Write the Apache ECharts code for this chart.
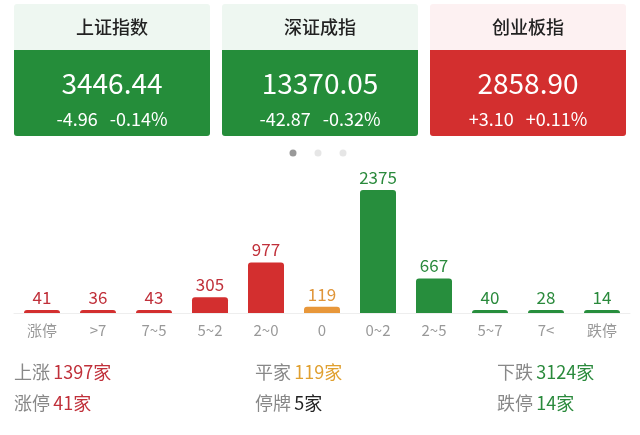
<!DOCTYPE html>
<html>
<head>
<meta charset="utf-8">
<title>涨跌分布</title>
<script src="https://cdn.jsdelivr.net/npm/echarts@6/dist/echarts.min.js"></script>
<style>
    html, body { margin: 0; padding: 0; background: #fff; }
    #main { width: 640px; height: 435px; }
</style>
</head>
<body>
<div id="main"></div>
<script>
    // 涨跌分布
    var categories = ['涨停', '>7', '7~5', '5~2', '2~0', '0', '0~2', '2~5', '5~7', '7<', '跌停'];
    var counts = [41, 36, 43, 305, 977, 119, 2375, 667, 40, 28, 14];
    var barColors = ['#d32f2f', '#d32f2f', '#d32f2f', '#d32f2f', '#d32f2f', '#e8973a',
                     '#278e3d', '#278e3d', '#278e3d', '#278e3d', '#278e3d'];
    var labelColors = ['#c0303a', '#c0303a', '#c0303a', '#c0303a', '#c0303a', '#e0963a',
                       '#2a8a3c', '#2a8a3c', '#2a8a3c', '#2a8a3c', '#2a8a3c'];

    // 指数卡片
    var indexNames = ['上证指数', '深证成指', '创业板指'];
    var indexValues = ['3446.44', '13370.05', '2858.90'];
    var indexChanges = ['-4.96   -0.14%', '-42.87   -0.32%', '+3.10   +0.11%'];
    var indexUp = [false, false, true];

    // 统计
    var summaryRows = [
        [['上涨', '1397家', '#c0303a'], ['平家', '119家', '#e0a030'], ['下跌', '3124家', '#2a8a3c']],
        [['涨停', '41家', '#c0303a'], ['停牌', '5家', '#222'], ['跌停', '14家', '#2a8a3c']]
    ];

    var font = '"Noto Sans CJK SC", "Noto Sans", sans-serif';
    var graphics = [];
    var cardX = [14, 222, 430];
    indexNames.forEach(function (name, i) {
        var x = cardX[i];
        var col = indexUp[i] ? '#d32f2f' : '#258d3a';
        graphics.push({ type: 'rect', shape: { x: x, y: 4, width: 196, height: 132, r: 3 },
            style: { fill: indexUp[i] ? '#fdf1f2' : '#eef7f1' } });
        graphics.push({ type: 'rect', shape: { x: x, y: 50, width: 196, height: 86, r: [0, 0, 3, 3] },
            style: { fill: col } });
        graphics.push({ type: 'text', x: x + 98, y: 27, style: { text: name, fill: '#222',
            font: '500 18px ' + font, align: 'center', verticalAlign: 'middle' } });
        graphics.push({ type: 'text', x: x + 98, y: 83, style: { text: indexValues[i], fill: '#fff',
            font: '28px ' + font, align: 'center', verticalAlign: 'middle' } });
        graphics.push({ type: 'text', x: x + 98, y: 119, style: { text: indexChanges[i], fill: '#fff',
            font: '18px ' + font, align: 'center', verticalAlign: 'middle' } });
    });
    [293, 318, 343].forEach(function (cx, i) {
        graphics.push({ type: 'circle', shape: { cx: cx, cy: 153, r: 3.5 },
            style: { fill: i === 0 ? '#999' : '#e6e6e6' } });
    });
    var colX = [14, 255, 497];
    summaryRows.forEach(function (row, r) {
        row.forEach(function (item, c) {
            graphics.push({ type: 'text', x: colX[c], y: 372 + r * 31, style: {
                text: '{a|' + item[0] + '} {b|' + item[1] + '}', verticalAlign: 'middle',
                rich: {
                    a: { fontSize: 18, fontFamily: font, fill: '#888', color: '#888' },
                    b: { fontSize: 18, fontFamily: font, fill: item[2], color: item[2] }
                } } });
        });
    });

    var myChart = echarts.init(document.getElementById('main'));
    var option = {
        animation: false,
        grid: { left: 14, right: 10, top: 190, bottom: 122 },
        xAxis: {
            type: 'category',
            data: categories,
            axisLine: { lineStyle: { color: '#eee', width: 1 } },
            axisTick: { show: false },
            axisLabel: { color: '#999', fontSize: 15, fontFamily: font, margin: 10 }
        },
        yAxis: { type: 'value', min: 0, max: 2375, show: false },
        series: [{
            type: 'bar',
            barWidth: 36,
            barMinHeight: 3,
            data: counts.map(function (v, i) {
                return {
                    value: v,
                    itemStyle: { color: barColors[i], borderRadius: [3, 3, 0, 0] },
                    label: { color: labelColors[i] }
                };
            }),
            label: { show: true, position: 'top', fontSize: 17, fontFamily: font, distance: 4 }
        }],
        graphic: graphics
    };
    myChart.setOption(option);
</script>
</body>
</html>
